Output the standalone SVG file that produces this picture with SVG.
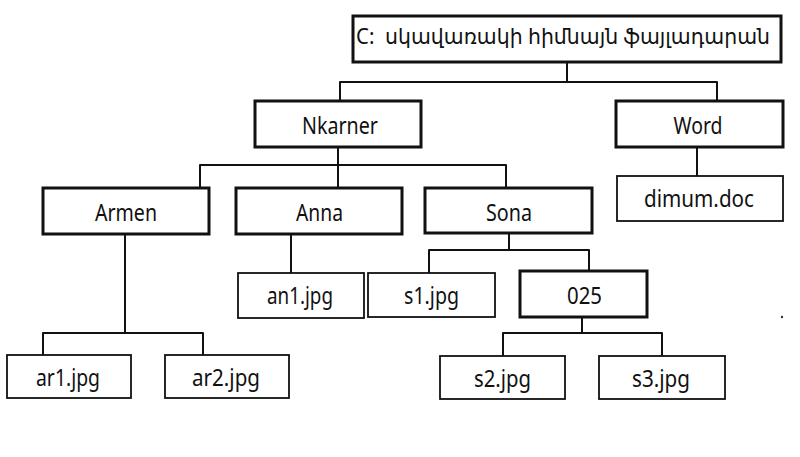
<svg xmlns="http://www.w3.org/2000/svg" width="800" height="457" viewBox="0 0 800 457">
<style>
.thick{fill:#fff;stroke:#111;stroke-width:3}
.thin{fill:#fff;stroke:#111;stroke-width:1.8}
.lbl{font-family:"Noto Sans","Open Sans","DejaVu Sans",sans-serif;font-size:23px;fill:#111;text-anchor:middle}
.root{font-family:"Noto Sans","DejaVu Sans",sans-serif;font-size:21px;fill:#111;white-space:pre}
.con{fill:none;stroke:#111;stroke-width:2;stroke-linejoin:round}
</style>
<rect width="800" height="457" fill="#fff"/>
<g id="connectors">
<path class="con" d="M567 62V82M340 101V82H717V101"/>
<path class="con" d="M697 147V176"/>
<path class="con" d="M338 147V188M200 188V165H506V188"/>
<path class="con" d="M125 234V333M43 355V333H203V355"/>
<path class="con" d="M291 234V273"/>
<path class="con" d="M509 233V250M429 273V250H589V271"/>
<path class="con" d="M582 317V333M503 356V333H662V356"/>
</g>
<g id="root"><rect class="thick" x="353" y="16" width="428" height="46"/><text class="root" x="356" y="44" xml:space="preserve" textLength="414" lengthAdjust="spacingAndGlyphs">C:  սկավառակի հիմնայն ֆայլադարան</text></g>
<g id="nkarner"><rect class="thick" x="255" y="101" width="166" height="46"/><text class="lbl" x="340" y="134" textLength="76" lengthAdjust="spacingAndGlyphs">Nkarner</text></g>
<g id="word"><rect class="thick" x="616" y="101" width="167" height="46"/><text class="lbl" x="698" y="134" textLength="49" lengthAdjust="spacingAndGlyphs">Word</text></g>
<g id="dimum"><rect class="thin" x="617" y="176" width="166" height="45"/><text class="lbl" x="699" y="207" textLength="110" lengthAdjust="spacingAndGlyphs">dimum.doc</text></g>
<g id="armen"><rect class="thick" x="43" y="188" width="166" height="46"/><text class="lbl" x="126" y="221" textLength="62" lengthAdjust="spacingAndGlyphs">Armen</text></g>
<g id="anna"><rect class="thick" x="236" y="188" width="166" height="46"/><text class="lbl" x="319.5" y="221" textLength="47" lengthAdjust="spacingAndGlyphs">Anna</text></g>
<g id="sona"><rect class="thick" x="425" y="188" width="167" height="45"/><text class="lbl" x="509" y="221" textLength="46" lengthAdjust="spacingAndGlyphs">Sona</text></g>
<g id="an1"><rect class="thin" x="238" y="273" width="126" height="45"/><text class="lbl" x="300" y="304" textLength="66" lengthAdjust="spacingAndGlyphs">an1.jpg</text></g>
<g id="s1"><rect class="thin" x="368" y="273" width="127" height="44"/><text class="lbl" x="431.5" y="304" textLength="55" lengthAdjust="spacingAndGlyphs">s1.jpg</text></g>
<g id="n025"><rect class="thick" x="520" y="271" width="127" height="46"/><text class="lbl" x="584.5" y="304" textLength="35" lengthAdjust="spacingAndGlyphs">025</text></g>
<g id="ar1"><rect class="thin" x="7" y="355" width="124" height="43"/><text class="lbl" x="68" y="386" textLength="64" lengthAdjust="spacingAndGlyphs">ar1.jpg</text></g>
<g id="ar2"><rect class="thin" x="165" y="355" width="124" height="43"/><text class="lbl" x="226" y="386" textLength="68" lengthAdjust="spacingAndGlyphs">ar2.jpg</text></g>
<g id="s2"><rect class="thin" x="440" y="356" width="125" height="43"/><text class="lbl" x="502.5" y="387" textLength="57" lengthAdjust="spacingAndGlyphs">s2.jpg</text></g>
<g id="s3"><rect class="thin" x="599" y="356" width="126" height="43"/><text class="lbl" x="661" y="387" textLength="58" lengthAdjust="spacingAndGlyphs">s3.jpg</text></g>
<circle cx="782" cy="317" r="1.2" fill="#333"/>
</svg>
